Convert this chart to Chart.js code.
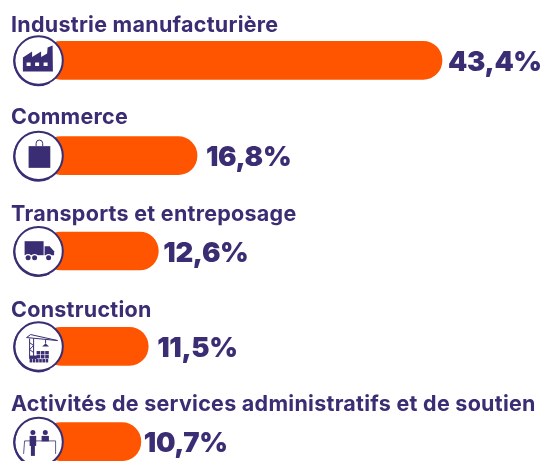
<!DOCTYPE html>
<html><head><meta charset="utf-8">
<style>html,body{margin:0;padding:0;background:#fff;overflow:hidden}canvas{display:block}</style>
<script src="https://cdn.jsdelivr.net/npm/chart.js@4"></script>
</head><body><canvas id="c" width="544" height="461"></canvas>
<script>
const categories = ["Industrie manufacturière","Commerce","Transports et entreposage","Construction","Activités de services administratifs et de soutien"];
const values = [43.4,16.8,12.6,11.5,10.7];
const valueLabels = ["43,4%","16,8%","12,6%","11,5%","10,7%"];
const icons = ["factory","bag","truck","crane","people"];
const labelLift = [28.6,31.3,30.3,29.6,30.8];
const valueGap = [6,9,5,9,3];
const INK = "#3A2D73", ORANGE = "#FF5500";

const iconDraw = {
  factory(g){
    g.fillStyle=INK;g.beginPath();
    g.moveTo(-15.7,11);g.lineTo(-15.7,-3);g.lineTo(-6.5,-9);g.lineTo(-6.5,-3.5);g.lineTo(2.5,-9);g.lineTo(2.5,-3.5);
    g.lineTo(8.5,-7);g.lineTo(9,-13);g.lineTo(14,-15);g.lineTo(14.3,11);g.closePath();g.fill();
    g.fillStyle="#fff";
    [-12,-3.5,5].forEach(x=>g.fillRect(x,2,4,3.5));
  },
  bag(g){
    g.fillStyle=INK;g.fillRect(-10,-9.7,21.7,21.7);
    g.strokeStyle=INK;g.lineWidth=1;g.beginPath();
    g.moveTo(-2.5,-9.7);g.arc(0.8,-12.5,3.3,Math.PI,0);g.lineTo(4.1,-9.7);g.stroke();
  },
  truck(g){
    g.fillStyle=INK;g.fillRect(-14,-10,19,14);
    g.beginPath();g.moveTo(6,-5);g.lineTo(11,-5);g.lineTo(15.5,0);g.lineTo(15.5,4);g.lineTo(6,4);g.closePath();g.fill();
    [-10.5,-4,10].forEach(x=>{g.fillStyle="#fff";g.beginPath();g.arc(x,6.5,3.6,0,7);g.fill();
      g.fillStyle=INK;g.beginPath();g.arc(x,6.5,2.5,0,7);g.fill();});
  },
  crane(g){
    g.strokeStyle=INK;g.fillStyle=INK;g.lineWidth=1;
    g.beginPath();g.moveTo(-12,-9);g.lineTo(19,-6);g.moveTo(-12,-9);g.lineTo(-8,-12);g.lineTo(19,-6);
    g.moveTo(-9,-8);g.lineTo(-9,10);g.moveTo(-5,-8);g.lineTo(-5,10);
    g.moveTo(-9,-4);g.lineTo(-5,-1);g.moveTo(-5,-1);g.lineTo(-9,3);g.lineTo(-5,6);
    g.moveTo(7,-7);g.lineTo(7,-3);g.stroke();
    g.beginPath();g.moveTo(3.5,0);g.lineTo(7,-3);g.lineTo(10.5,0);g.closePath();g.fill();
    for(let r=0;r<2;r++)for(let c=0;c<3;c++)g.fillRect(-2+c*4.3,4.5+r*4,3.6,3.4);
    for(let c=0;c<6;c++)g.fillRect(-9+c*3.2,12.5,2.6,3.4);
    g.fillRect(-9.5,9,8,3.4);
  },
  people(g){
    g.fillStyle=INK;
    g.beginPath();g.arc(-5.7,-9.3,2.5,0,7);g.arc(6.7,-9.3,2.5,0,7);g.fill();
    g.fillRect(-9,-6,6.6,10);g.fillRect(-7.7,3,4,11);
    g.fillRect(3,-6,7.3,5.5);
    g.strokeStyle=INK;g.lineWidth=.8;g.beginPath();
    g.moveTo(-15,12);g.lineTo(-14,-1);g.lineTo(17,-1);g.lineTo(17,12);g.stroke();
  }
};

const overlay = {
  id:"overlay",
  afterDatasetsDraw(chart){
    const g=chart.ctx, meta=chart.getDatasetMeta(0);
    meta.data.forEach((bar,i)=>{
      const yc=bar.y;
      g.save();
      g.fillStyle=INK;g.textBaseline="alphabetic";g.textAlign="left";
      g.font="700 21.5px Inter";g.letterSpacing="0.27px";
      g.fillText(categories[i],11,yc-labelLift[i]);
      g.font="900 27.5px Inter";g.letterSpacing="-0.35px";
      g.fillText(valueLabels[i],bar.x+valueGap[i],yc+10.5);
      const cx=38.6, cy=yc+0.2;
      g.fillStyle="#fff";g.strokeStyle=INK;g.lineWidth=2;
      g.beginPath();g.arc(cx,cy,24.2,0,7);g.fill();g.stroke();
      g.lineWidth=1.8;g.beginPath();g.arc(cx-0.2,cy+0.7,24.2,Math.PI*0.35,Math.PI*1.15);g.stroke();
      g.translate(cx,cy);
      iconDraw[icons[i]](g);
      g.restore();
    });
  }
};

new Chart(document.getElementById("c"),{
  type:"bar",
  data:{labels:categories,datasets:[{data:values,backgroundColor:ORANGE,borderRadius:19,borderSkipped:false,barThickness:38,clip:false}]},
  options:{
    indexAxis:"y",responsive:false,animation:false,
    layout:{padding:{left:42.3,right:0,top:60.3,bottom:19.3}},
    plugins:{legend:{display:false},tooltip:{enabled:false}},
    scales:{
      x:{display:false,min:0,max:54.47},
      y:{display:false,offset:false,grid:{offset:false}}
    }
  },
  plugins:[overlay]
});
</script></body></html>
